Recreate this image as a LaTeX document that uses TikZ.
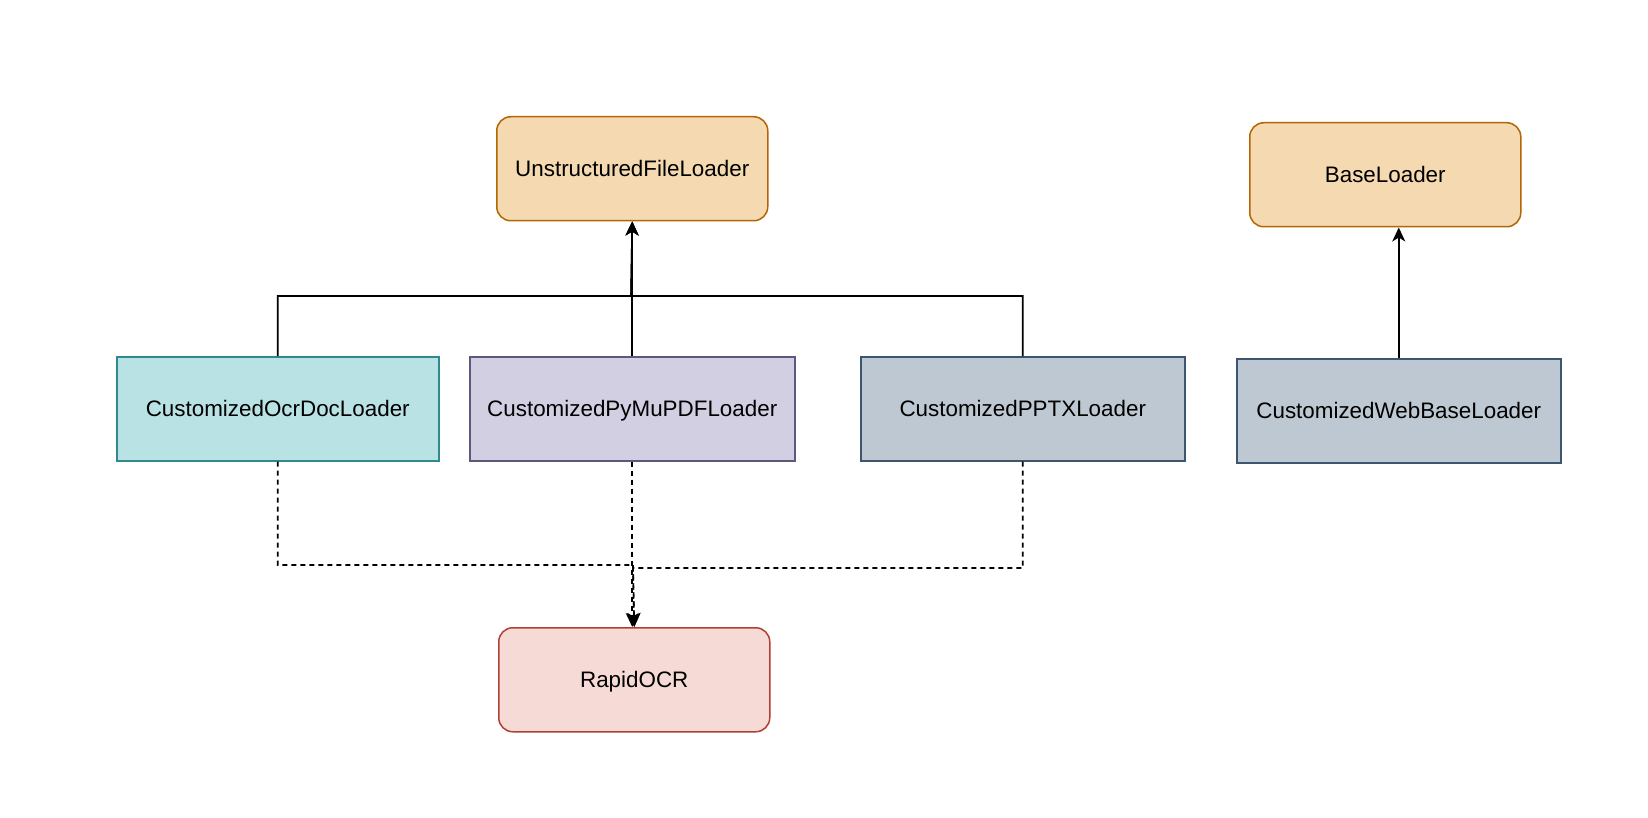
\documentclass[tikz,border=0pt]{standalone}
\usepackage{fontspec}
\setmainfont{Liberation Sans}
\usetikzlibrary{arrows.meta}
\definecolor{orF}{HTML}{F5D9B0}\definecolor{orD}{HTML}{B46504}
\definecolor{tlF}{HTML}{B9E2E4}\definecolor{tlD}{HTML}{2E8A8F}
\definecolor{puF}{HTML}{D2CFE2}\definecolor{puD}{HTML}{5E587F}
\definecolor{blF}{HTML}{BDC8D2}\definecolor{blD}{HTML}{3C5670}
\definecolor{rdF}{HTML}{F6DAD6}\definecolor{rdD}{HTML}{AE4132}
\tikzset{
  box/.style={minimum width=#1, minimum height=104pt, inner sep=0pt, line width=1.5pt, font=\fontsize{22.4}{26}\selectfont, text height=16pt, text depth=0pt, anchor=north west},
  box/.default=323pt,
  rbox/.style={box=271pt, rounded corners=14pt},
  conn/.style={line width=1.6pt, black},
  arr/.style={conn, -{Stealth[length=14pt,width=13pt,inset=4pt]}},
  dsh/.style={dash pattern=on 5pt off 4pt}
}
\begin{document}
\begin{tikzpicture}[x=1pt,y=-1pt]
\useasboundingbox (0,0) rectangle (1648,818);
\node[rbox, fill=orF, draw=orD] (unstr) at (496,116) {UnstructuredFileLoader};
\node[rbox, fill=orF, draw=orD] (base) at (1249,122) {BaseLoader};
\node[box=322pt, fill=tlF, draw=tlD] (ocr) at (116,356) {CustomizedOcrDocLoader};
\node[box=325pt, fill=puF, draw=puD] (pymu) at (469,356) {CustomizedPyMuPDFLoader};
\node[box=324pt, fill=blF, draw=blD] (pptx) at (860,356) {CustomizedPPTXLoader};
\node[box=324pt, fill=blF, draw=blD] (web) at (1236,358) {CustomizedWebBaseLoader};
\node[rbox, fill=rdF, draw=rdD] (rapid) at (498,627) {RapidOCR};
\coordinate (busU) at (631,296);
\coordinate (busL) at (633,565);
\coordinate (busR) at (633,568);
\draw[arr] (ocr.north) |- (busU) -- (unstr.south);
\draw[arr] (pptx.north) |- (busU) -- (unstr.south);
\draw[arr] (pymu.north) -- (unstr.south);
\draw[arr] (web.north) -- (web.north |- base.south);
\draw[arr, dsh] (ocr.south) |- (busL) -- (rapid.north);
\draw[arr, dsh] (pptx.south) |- (busR) -- (rapid.north);
\draw[arr, dsh] (pymu.south) -- (pymu.south |- rapid.north);
\end{tikzpicture}
\end{document}
